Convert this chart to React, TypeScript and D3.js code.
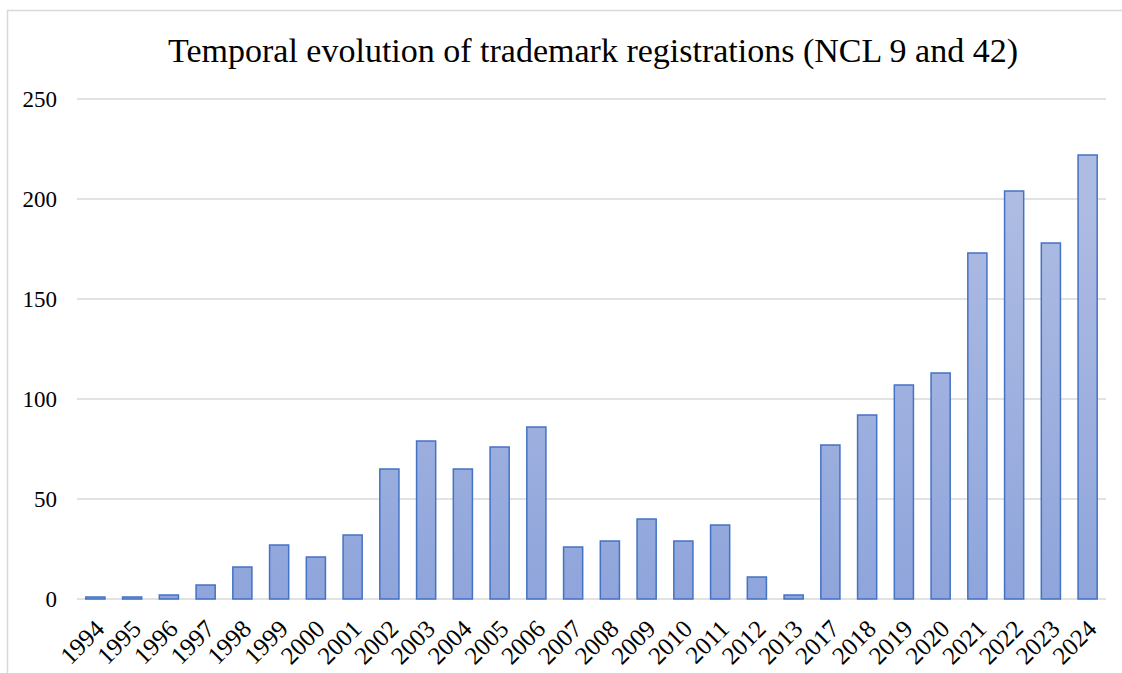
import React, { useEffect, useRef } from 'react';
import * as d3 from 'd3';

const years = [
  '1994', '1995', '1996', '1997', '1998', '1999', '2000', '2001', '2002', '2003',
  '2004', '2005', '2006', '2007', '2008', '2009', '2010', '2011', '2012', '2013',
  '2017', '2018', '2019', '2020', '2021', '2022', '2023', '2024'
];
const registrations = [
  1, 1, 2, 7, 16, 27, 21, 32, 65, 79,
  65, 76, 86, 26, 29, 40, 29, 37, 11, 2,
  77, 92, 107, 113, 173, 204, 178, 222
];
const yTicks = [0, 50, 100, 150, 200, 250];
const title = 'Temporal evolution of trademark registrations (NCL 9 and 42)';

const App = () => {
  const ref = useRef<SVGSVGElement | null>(null);

  useEffect(() => {
    const width = 1122;
    const height = 673;
    const margin = { top: 99, right: 16, bottom: 74, left: 77 };
    const innerW = width - margin.left - margin.right;
    const innerH = height - margin.top - margin.bottom;
    const font = '"Liberation Serif", "Times New Roman", serif';

    const svg = d3.select(ref.current);
    svg.selectAll('*').remove();

    const defs = svg.append('defs');
    const grad = defs.append('linearGradient')
      .attr('id', 'barGrad')
      .attr('gradientUnits', 'userSpaceOnUse')
      .attr('x1', 0).attr('y1', margin.top)
      .attr('x2', 0).attr('y2', margin.top + innerH);
    grad.append('stop').attr('offset', '0%').attr('stop-color', '#aebce3');
    grad.append('stop').attr('offset', '100%').attr('stop-color', '#879fd9');

    // outer border
    svg.append('rect')
      .attr('x', 7.5).attr('y', 10.5)
      .attr('width', width + 10).attr('height', height + 10)
      .attr('fill', 'white')
      .attr('stroke', '#d9d9d9')
      .attr('stroke-width', 1.5);

    svg.append('text')
      .attr('x', 593)
      .attr('y', 62)
      .attr('text-anchor', 'middle')
      .attr('font-family', font)
      .attr('font-size', 34)
      .attr('fill', '#000')
      .text(title);

    const g = svg.append('g').attr('transform', `translate(${margin.left},${margin.top})`);

    const x = d3.scaleBand()
      .domain(years)
      .range([0, innerW])
      .paddingInner(0.48)
      .paddingOuter(0.24);

    const y = d3.scaleLinear()
      .domain([0, 250])
      .range([innerH, 0]);

    // gridlines
    g.selectAll('.grid')
      .data(yTicks)
      .enter()
      .append('line')
      .attr('x1', 0)
      .attr('x2', innerW)
      .attr('y1', d => y(d))
      .attr('y2', d => y(d))
      .attr('stroke', '#d9d9d9')
      .attr('stroke-width', 1.5);

    // y labels
    g.selectAll('.ylab')
      .data(yTicks)
      .enter()
      .append('text')
      .attr('x', -20)
      .attr('y', d => y(d))
      .attr('dy', '0.35em')
      .attr('text-anchor', 'end')
      .attr('font-family', font)
      .attr('font-size', 23)
      .attr('fill', '#000')
      .text(d => d);

    g.selectAll('.bar')
      .data(registrations)
      .enter()
      .append('rect')
      .attr('x', (d, i) => x(years[i]) as number)
      .attr('y', d => y(d))
      .attr('width', x.bandwidth())
      .attr('height', d => innerH - y(d))
      .attr('fill', 'url(#barGrad)')
      .attr('stroke', '#4472c4')
      .attr('stroke-width', 1.5);

    // x labels
    g.selectAll('.xlab')
      .data(years)
      .enter()
      .append('text')
      .attr('transform', d => `translate(${(x(d) as number) + x.bandwidth() / 2 - 2},${innerH + 19}) rotate(-45)`)
      .attr('text-anchor', 'end')
      .attr('dy', '0.7em')
      .attr('font-family', font)
      .attr('font-size', 25)
      .attr('fill', '#000')
      .text(d => d);
  }, []);

  return (
    <svg ref={ref} width={1122} height={673} style={{ position: 'absolute', left: 0, top: 0 }} />
  );
};

export default App;
